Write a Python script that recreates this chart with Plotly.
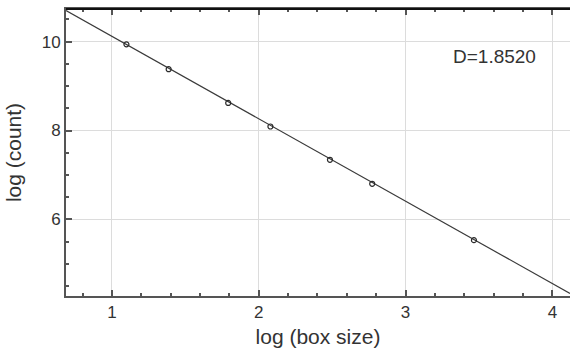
import plotly.graph_objects as go

# data: log(box size) vs log(count)
box_log = [1.0986, 1.3863, 1.7918, 2.0794, 2.4849, 2.7726, 3.4657]
count_log = [9.94, 9.38, 8.62, 8.09, 7.34, 6.80, 5.53]
fit_x = [0.687, 4.12]
fit_y = [10.70, 4.33]
label_text = "D=1.8520"

font_family = "Liberation Sans, Arial, sans-serif"

fig = go.Figure()
fig.add_trace(go.Scatter(x=fit_x, y=fit_y, mode="lines",
                         line=dict(color="#3a3a3a", width=1.2),
                         showlegend=False, hoverinfo="skip"))
fig.add_trace(go.Scatter(x=box_log, y=count_log, mode="markers",
                         marker=dict(symbol="circle-open", size=5,
                                     color="#2a2a2a", line=dict(width=1.2)),
                         showlegend=False))

fig.add_annotation(x=(494 - 66) / 504, y=1 - (57 - 9) / 287, xref="paper", yref="paper",
                   text=label_text, showarrow=False, xanchor="center", yanchor="middle",
                   font=dict(family=font_family, size=19, color="#333"))

# darker top frame line
fig.add_shape(type="line", xref="paper", yref="paper", x0=0, x1=1, y0=1, y1=1,
              line=dict(color="#111", width=2))

fig.update_layout(
    width=570, height=354,
    margin=dict(l=66, r=0, t=9, b=58),
    paper_bgcolor="white", plot_bgcolor="white",
    font=dict(family=font_family, size=17, color="#333"),
    xaxis=dict(
        range=[0.687, 4.12], tickvals=[1, 2, 3, 4], automargin=False,
        showgrid=True, gridcolor="#dcdcdc", gridwidth=1,
        showline=True, linecolor="#555", linewidth=2, mirror="ticks",
        ticks="inside", ticklen=6, tickcolor="#555", tickwidth=1.5,
        minor=dict(dtick=0.2, tick0=0, ticks="inside", ticklen=3,
                   tickcolor="#555", showgrid=False),
        zeroline=False,
        title=dict(text="log (box size)", font=dict(size=21), standoff=8),
        tickfont=dict(size=17),
    ),
    yaxis=dict(
        range=[4.273, 10.736], tickvals=[6, 8, 10], automargin=False,
        showgrid=True, gridcolor="#dcdcdc", gridwidth=1,
        showline=True, linecolor="#555", linewidth=2,
        ticks="inside", ticklen=6, tickcolor="#555", tickwidth=1.5,
        minor=dict(dtick=0.5, tick0=0, ticks="inside", ticklen=3,
                   tickcolor="#555", showgrid=False),
        zeroline=False,
        title=dict(text="log (count)", font=dict(size=21), standoff=14),
        tickfont=dict(size=17),
    ),
)

fig.write_html("out.html", config={"displayModeBar": False},
               post_script="document.body.style.margin='0px';")
